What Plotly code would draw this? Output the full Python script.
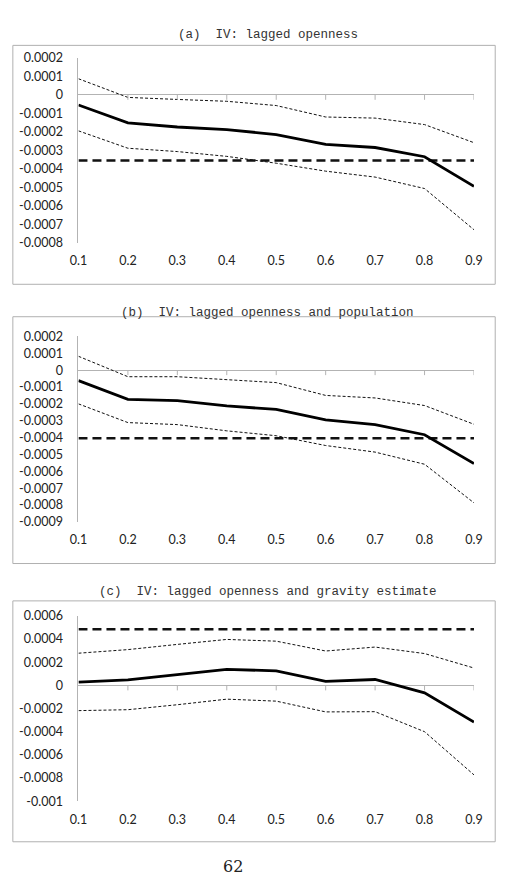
import plotly.graph_objects as go

W, H = 510, 894

quantiles = [0.1, 0.2, 0.3, 0.4, 0.5, 0.6, 0.7, 0.8, 0.9]
x_labels = ["0.1", "0.2", "0.3", "0.4", "0.5", "0.6", "0.7", "0.8", "0.9"]

# Panel (a)
a_title = "(a)  IV: lagged openness"
a_est = [-0.000055, -0.000152, -0.000174, -0.000188, -0.000215, -0.000268, -0.000285, -0.000335, -0.000495]
a_upper = [0.000087, -0.000014, -0.000025, -0.000035, -0.000058, -0.000120, -0.000126, -0.000161, -0.000259]
a_lower = [-0.000195, -0.000289, -0.000307, -0.000333, -0.000370, -0.000413, -0.000445, -0.000507, -0.000730]
a_ref = -0.000355
a_yticks = [0.0002, 0.0001, 0, -0.0001, -0.0002, -0.0003, -0.0004, -0.0005, -0.0006, -0.0007, -0.0008]
a_yticktext = ["0.0002", "0.0001", "0", "-0.0001", "-0.0002", "-0.0003", "-0.0004", "-0.0005", "-0.0006", "-0.0007", "-0.0008"]

# Panel (b)
b_title = "(b)  IV: lagged openness and population"
b_est = [-0.000062, -0.000173, -0.000181, -0.000212, -0.000233, -0.000295, -0.000323, -0.000383, -0.000554]
b_upper = [0.000082, -0.000039, -0.000039, -0.000058, -0.000074, -0.000150, -0.000165, -0.000210, -0.000321]
b_lower = [-0.000200, -0.000311, -0.000323, -0.000360, -0.000389, -0.000447, -0.000486, -0.000558, -0.000787]
b_ref = -0.000404
b_yticks = [0.0002, 0.0001, 0, -0.0001, -0.0002, -0.0003, -0.0004, -0.0005, -0.0006, -0.0007, -0.0008, -0.0009]
b_yticktext = ["0.0002", "0.0001", "0", "-0.0001", "-0.0002", "-0.0003", "-0.0004", "-0.0005", "-0.0006", "-0.0007", "-0.0008", "-0.0009"]

# Panel (c)
c_title = "(c)  IV: lagged openness and gravity estimate"
c_est = [0.000028, 0.000048, 0.000093, 0.000139, 0.000125, 0.000034, 0.000051, -0.000065, -0.000317]
c_upper = [0.000278, 0.000309, 0.000354, 0.000397, 0.000382, 0.000297, 0.000331, 0.000275, 0.000150]
c_lower = [-0.000218, -0.000210, -0.000167, -0.000119, -0.000136, -0.000229, -0.000227, -0.000400, -0.000773]
c_ref = 0.000484
c_yticks = [0.0006, 0.0004, 0.0002, 0, -0.0002, -0.0004, -0.0006, -0.0008, -0.001]
c_yticktext = ["0.0006", "0.0004", "0.0002", "0", "-0.0002", "-0.0004", "-0.0006", "-0.0008", "-0.001"]

page_number = "62"

panels = [
    dict(title=a_title, est=a_est, up=a_upper, lo=a_lower, ref=a_ref, yt=a_yticks, ytt=a_yticktext,
         frame=(4, 38, 504, 281), plot=(72, 482, 50.7, 238.7), title_y=27),
    dict(title=b_title, est=b_est, up=b_upper, lo=b_lower, ref=b_ref, yt=b_yticks, ytt=b_yticktext,
         frame=(4, 314, 504, 565), plot=(72, 482, 334.0, 522.7), title_y=310),
    dict(title=c_title, est=c_est, up=c_upper, lo=c_lower, ref=c_ref, yt=c_yticks, ytt=c_yticktext,
         frame=(4, 603, 504, 848), plot=(72, 482, 618.3, 806.7), title_y=594),
]

AXIS_GREY = "#b3b3b3"
FRAME_GREY = "#b0b0b0"
TICK_FONT = dict(family="Lato, Open Sans, sans-serif", size=12.5, color="#222222")
TITLE_FONT = dict(family="Liberation Mono, DejaVu Sans Mono, monospace", size=12.5, color="#333333")

fig = go.Figure()
shapes = []
annotations = []

for i, p in enumerate(panels, start=1):
    xa = "x" if i == 1 else f"x{i}"
    ya = "y" if i == 1 else f"y{i}"
    xl, xr, yt_px, yb_px = p["plot"]
    common = dict(xaxis=xa, yaxis=ya, showlegend=False, hoverinfo="skip")
    fig.add_trace(go.Scatter(x=quantiles, y=p["up"], mode="lines",
                             line=dict(color="#111111", width=1, dash="3px,2px"), **common))
    fig.add_trace(go.Scatter(x=quantiles, y=p["lo"], mode="lines",
                             line=dict(color="#111111", width=1, dash="3px,2px"), **common))
    fig.add_trace(go.Scatter(x=quantiles, y=[p["ref"]] * len(quantiles), mode="lines",
                             line=dict(color="#111111", width=2.5, dash="9px,5px"), **common))
    fig.add_trace(go.Scatter(x=quantiles, y=p["est"], mode="lines",
                             line=dict(color="#000000", width=2.8), **common))

    xkey = "xaxis" if i == 1 else f"xaxis{i}"
    ykey = "yaxis" if i == 1 else f"yaxis{i}"
    fig.layout[xkey] = dict(
        domain=[xl / W, xr / W], anchor=ya, range=[quantiles[0], quantiles[-1]],
        tickvals=quantiles, ticktext=x_labels, showgrid=False, zeroline=False,
        showline=False, ticks="", tickfont=TICK_FONT, ticklabelstandoff=9,
        fixedrange=True,
    )
    fig.layout[ykey] = dict(
        domain=[1 - yb_px / H, 1 - yt_px / H], anchor=xa,
        range=[p["yt"][-1], p["yt"][0]], tickvals=p["yt"], ticktext=p["ytt"],
        showgrid=False, zeroline=True, zerolinecolor=AXIS_GREY, zerolinewidth=1,
        showline=True, linecolor=AXIS_GREY, linewidth=1, ticks="",
        tickfont=TICK_FONT, ticklabelstandoff=12, fixedrange=True,
    )
    # category tick marks on the zero line (pointing up)
    for q in quantiles[1:]:
        shapes.append(dict(type="line", xref=xa, yref=ya, x0=q, x1=q,
                           ysizemode="pixel", yanchor=0, y0=0, y1=-5,
                           line=dict(color=AXIS_GREY, width=1)))
    # outer chart frame
    fx0, fy0, fx1, fy1 = p["frame"]
    shapes.append(dict(type="rect", xref="paper", yref="paper",
                       x0=fx0 / W, x1=fx1 / W, y0=1 - fy1 / H, y1=1 - fy0 / H,
                       line=dict(color=FRAME_GREY, width=1), layer="below"))
    annotations.append(dict(text=p["title"], xref="paper", yref="paper",
                            x=268 / W, y=1 - p["title_y"] / H, showarrow=False,
                            xanchor="center", yanchor="middle", font=TITLE_FONT))

annotations.append(dict(text=page_number, xref="paper", yref="paper",
                        x=232 / W, y=1 - 873 / H, showarrow=False,
                        xanchor="center", yanchor="middle",
                        font=dict(family="DejaVu Serif, Liberation Serif, serif", size=16, color="#222222")))

fig.update_layout(
    width=W, height=H, margin=dict(l=0, r=0, t=0, b=0),
    paper_bgcolor="white", plot_bgcolor="rgba(0,0,0,0)",
    shapes=shapes, annotations=annotations, showlegend=False,
)

fig.write_html("out.html", config={"displayModeBar": False})
